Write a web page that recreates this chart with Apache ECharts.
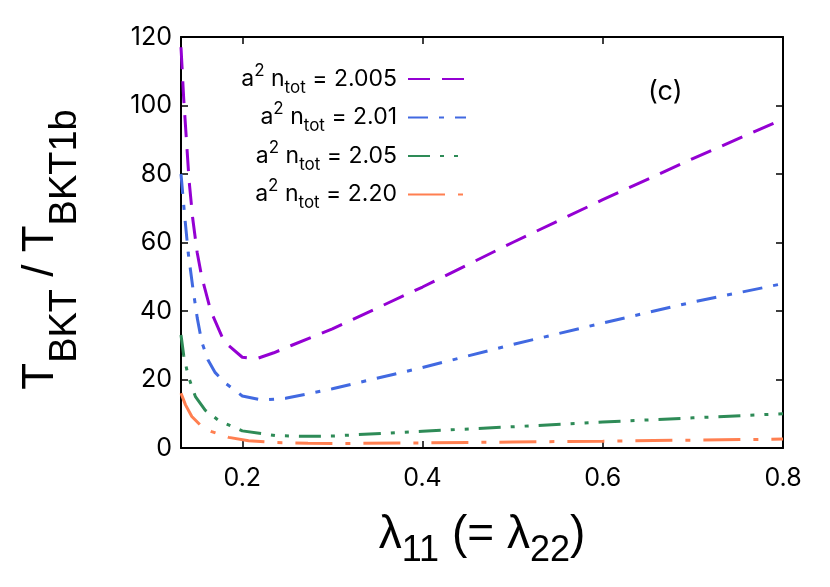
<!DOCTYPE html>
<html>
<head>
<meta charset="utf-8">
<script src="https://cdn.jsdelivr.net/npm/echarts@6/dist/echarts.min.js"></script>
<style>html,body{margin:0;padding:0;background:#fff}#chart{width:830px;height:587px}</style>
</head>
<body>
<div id="chart"></div>
<script>
// ---- data ----
const xTicks = [0.2, 0.4, 0.6, 0.8];
const seriesLabels = ['2.005', '2.01', '2.05', '2.20'];

const lam2005 = [0.132, 0.135, 0.138, 0.141, 0.145, 0.150, 0.155, 0.165, 0.180, 0.200, 0.215, 0.235, 0.255, 0.300, 0.400, 0.500, 0.600, 0.700, 0.800];
const t2005   = [117, 102, 90, 78, 67, 57, 50, 40, 31, 26.5, 26, 27.8, 30, 34.8, 47, 60, 72.5, 84.5, 96];

const lam201 = [0.132, 0.136, 0.140, 0.145, 0.150, 0.155, 0.162, 0.170, 0.181, 0.200, 0.222, 0.248, 0.300, 0.400, 0.500, 0.600, 0.700, 0.800];
const t201   = [80, 68, 57, 47, 38, 31, 25.7, 22, 19, 15.2, 14, 14.5, 17.3, 23.5, 30.2, 36.5, 42.6, 48];

const lam205 = [0.132, 0.135, 0.140, 0.148, 0.159, 0.174, 0.200, 0.237, 0.273, 0.300, 0.400, 0.500, 0.600, 0.700, 0.800];
const t205   = [33, 27, 21, 15, 11, 8, 5, 3.6, 3.4, 3.5, 4.9, 6.2, 7.6, 8.8, 10];

const lam220 = [0.132, 0.137, 0.144, 0.155, 0.166, 0.185, 0.207, 0.237, 0.273, 0.300, 0.400, 0.500, 0.600, 0.700, 0.800];
const t220   = [16, 12.6, 9.2, 6.3, 4.8, 3.1, 2.1, 1.6, 1.4, 1.3, 1.5, 1.75, 2.0, 2.3, 2.6];

// ---- styling ----
const FONT = 'Inter';
const NAME_FONT = 'Liberation Sans';
const colors = ['#9400d3', '#4169e1', '#2e8b57', '#ff7f50'];
const dashes = [[22, 12], [20, 11, 5, 11], [22, 10, 4, 10, 4, 10], [37, 13, 5, 13]];
const xs = [lam2005, lam201, lam205, lam220];
const ys = [t2005, t201, t205, t220];

const zip = (a, b) => a.map((v, i) => [v, b[i]]);

const series = seriesLabels.map((name, i) => ({
  name: name,
  type: 'line',
  data: zip(xs[i], ys[i]),
  symbol: 'none',
  showSymbol: false,
  smooth: false,
  clip: true,
  color: colors[i],
  lineStyle: { color: colors[i], width: 3, type: dashes[i] },
  emphasis: { disabled: true }
}));

const axisLineStyle = { color: '#000', width: 2 };
const tickStyle = { color: '#000', width: 1.5 };

const chart = echarts.init(document.getElementById('chart'), null, { renderer: 'canvas' });
chart.setOption({
  animation: false,
  backgroundColor: '#fff',
  textStyle: { fontFamily: FONT },
  title: {
    text: '(c)', left: 643, top: 73,
    textStyle: { fontFamily: FONT, fontSize: 27, fontWeight: 'normal', color: '#000' }
  },
  grid: { left: 181, right: 47, top: 37, bottom: 139, containLabel: false },
  legend: {
    orient: 'vertical',
    align: 'right',
    right: 358,
    top: 57,
    itemWidth: 58,
    itemHeight: 14,
    itemGap: 4.5,
    selectedMode: false,
    data: seriesLabels,
    itemStyle: { color: 'rgba(0,0,0,0)', borderWidth: 0, opacity: 0 },
    formatter: name => '{a|a}{sup|2}{a| n}{sub|tot}{a| = ' + name + '}{g| }',
    textStyle: {
      fontFamily: FONT, color: '#000',
      rich: {
        a: { fontFamily: FONT, fontSize: 23, lineHeight: 34, verticalAlign: 'middle', color: '#000' },
        sup: { fontFamily: FONT, fontSize: 17, lineHeight: 16, verticalAlign: 'top', color: '#000' },
        sub: { fontFamily: FONT, fontSize: 17, lineHeight: 16, verticalAlign: 'bottom', color: '#000' },
        g: { fontFamily: FONT, fontSize: 10, width: 6, lineHeight: 10 }
      }
    }
  },
  xAxis: [
    {
      type: 'value', min: 0.132, max: 0.8, position: 'bottom',
      axisLine: { show: true, onZero: false, lineStyle: axisLineStyle },
      axisTick: { show: true, inside: true, length: 7, customValues: xTicks, lineStyle: tickStyle },
      axisLabel: { customValues: xTicks, formatter: v => v.toFixed(1), fontFamily: FONT, fontSize: 25, color: '#000', margin: 18 },
      splitLine: { show: false },
      name: '{m|λ}{s|11}{m| (= λ}{s|22}{m|)}',
      nameLocation: 'middle',
      nameGap: 54,
      nameTextStyle: {
        rich: {
          m: { fontFamily: NAME_FONT, fontSize: 46, lineHeight: 67, verticalAlign: 'middle', color: '#000' },
          s: { fontFamily: NAME_FONT, fontSize: 36, lineHeight: 36, verticalAlign: 'bottom', color: '#000' }
        }
      }
    },
    {
      type: 'value', min: 0.132, max: 0.8, position: 'top',
      axisLine: { show: true, onZero: false, lineStyle: axisLineStyle },
      axisTick: { show: true, inside: true, length: 7, customValues: xTicks, lineStyle: tickStyle },
      axisLabel: { show: false },
      splitLine: { show: false }
    }
  ],
  yAxis: [
    {
      type: 'value', min: 0, max: 120, interval: 20, position: 'left',
      axisLine: { show: true, onZero: false, lineStyle: axisLineStyle },
      axisTick: { show: true, inside: true, length: 7, lineStyle: tickStyle },
      axisLabel: { fontFamily: FONT, fontSize: 25, color: '#000', margin: 9 },
      splitLine: { show: false },
      name: '{m|T}{s|BKT}{m| / T}{s|BKT1b}',
      nameLocation: 'middle',
      nameRotate: 90,
      nameGap: 96,
      nameTextStyle: {
        padding: [0, 14, 0, 0],
        rich: {
          m: { fontFamily: NAME_FONT, fontSize: 44, lineHeight: 88, verticalAlign: 'middle', color: '#000' },
          s: { fontFamily: NAME_FONT, fontSize: 38, lineHeight: 38, verticalAlign: 'bottom', color: '#000' }
        }
      }
    },
    {
      type: 'value', min: 0, max: 120, interval: 20, position: 'right',
      axisLine: { show: true, onZero: false, lineStyle: axisLineStyle },
      axisTick: { show: true, inside: true, length: 7, lineStyle: tickStyle },
      axisLabel: { show: false },
      splitLine: { show: false }
    }
  ],
  series: series
});
</script>
</body>
</html>
